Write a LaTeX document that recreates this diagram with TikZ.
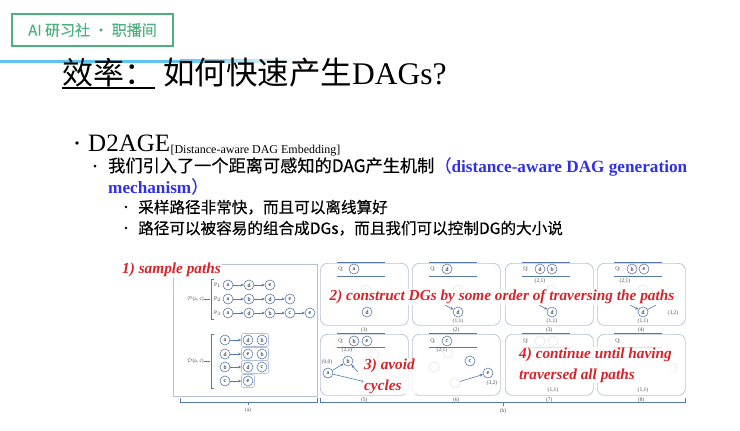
\documentclass[tikz,border=0pt]{standalone}
\usepackage{fontspec}
\setmainfont{Liberation Serif}
\newfontfamily\cjk{Noto Sans CJK SC}
\newfontfamily\cjkm{Noto Sans CJK SC}[FakeBold=0.35]
\usetikzlibrary{arrows.meta, positioning, fit}
\definecolor{SlideGreen}{HTML}{4DB07F}
\definecolor{LineBlue}{HTML}{5CC6EE}
\definecolor{TextBlue}{HTML}{3030E8}
\definecolor{LabelRed}{HTML}{D8232A}
\definecolor{FigBlue}{HTML}{5877AE}
\definecolor{BoxGray}{HTML}{B3C1D6}

\begin{document}
\begin{tikzpicture}[x=1pt, y=-1pt,
    vertex/.style={circle, draw=FigBlue, line width=0.6pt, inner sep=0pt, minimum size=10pt, font=\fontsize{6}{6}\selectfont},
    ghost/.style={vertex, draw=black!10, text=black!15},
    group/.style={draw=BoxGray, line width=0.6pt, rounded corners=2pt, inner sep=1.2pt},
    edge/.style={-{Stealth[length=3pt, width=3pt]}, FigBlue, line width=0.6pt},
    panel/.style={draw=BoxGray, line width=0.7pt, rounded corners=7pt, minimum width=88pt, minimum height=62pt, inner sep=0pt},
    qline/.style={FigBlue, line width=0.9pt},
    tiny/.style={font=\fontsize{5.5}{6}\selectfont, text=black!70, inner sep=0pt},
    redlabel/.style={text=LabelRed, font=\bfseries\itshape\fontsize{15.3}{21}\selectfont, fill=white, fill opacity=0.8, text opacity=1, inner sep=1pt, align=left}
  ]
  \useasboundingbox (0,0) rectangle (740,431);

  % header
  \node[draw=SlideGreen, line width=1.6pt, minimum width=161pt, minimum height=32pt, inner sep=0pt,
        text=SlideGreen, font=\cjkm\fontsize{15}{15}\selectfont] (logo) at (92.5,30) {AI 研习社 · 职播间};
  \fill[LineBlue] (0,59.5) rectangle (180,62.5);
  \shade[left color=LineBlue, right color=white] (180,59.5) rectangle (300,62.5);
  \node[anchor=base west, inner sep=0pt, font=\cjk\fontsize{31}{31}\selectfont] (title1) at (62,84) {效率：};
  \draw[line width=1.2pt] (62,88) -- (155,88);
  \node[anchor=base west, inner sep=0pt, font=\fontsize{31.5}{32}\selectfont] (title2) at (163,84) {{\cjk 如何快速产生}DAGs?};

  % bullets
  \fill (77,143) circle (1.8);
  \node[anchor=base west, inner sep=0pt, font=\fontsize{25}{25}\selectfont] (d2age) at (88,151) {D2AGE};
  \node[anchor=base west, inner sep=0pt, font=\fontsize{12}{13}\selectfont] (d2agesub) at ([yshift=-2pt]d2age.base east) {[Distance-aware DAG Embedding]};
  \fill (95,166) circle (1.5);
  \node[anchor=base west, inner sep=0pt, font=\fontsize{17.2}{18}\selectfont] (mech1) at (108,172)
    {{\cjkm 我们引入了一个距离可感知的DAG产生机制}\textcolor{TextBlue}{{\cjkm （}\bfseries distance-aware DAG generation}};
  \node[anchor=base west, inner sep=0pt, font=\fontsize{17.2}{18}\selectfont, text=TextBlue] (mech2) at (108,193)
    {\textbf{mechanism}{\cjkm ）}};
  \fill (126,207) circle (1.4);
  \node[anchor=base west, inner sep=0pt, font=\cjkm\fontsize{15.6}{16}\selectfont] (fast) at (138,213) {采样路径非常快，而且可以离线算好};
  \fill (126,228) circle (1.4);
  \node[anchor=base west, inner sep=0pt, font=\cjkm\fontsize{15.6}{16}\selectfont] (combine) at (138,234) {路径可以被容易的组合成DGs，而且我们可以控制DG的大小说};

  % panel (a)
  \draw[BoxGray, line width=0.7pt] (173,264) rectangle (317,396);
  \node[tiny, anchor=east] (pset) at (204,299) {$\mathcal{P}$(a, c)};
  \draw[FigBlue, line width=0.5pt] (pset.east) -- ++(6,0);
  \draw[FigBlue, line width=0.6pt] (214,279) -- (211,279) -- (211,319) -- (214,319);
  \node[tiny] (p1) at (217.5,285) {P$_1$};
  \node[tiny] (p2) at (217.5,299) {P$_2$};
  \node[tiny] (p3) at (217.5,313) {P$_3$};
  \node[vertex] (p1a) at (228,285) {a};
  \node[vertex] (p1d) at (249,285) {d};
  \node[vertex] (p1e) at (270,285) {e};
  \node[vertex] (p2a) at (228,299) {a};
  \node[vertex] (p2b) at (249,299) {b};
  \node[vertex] (p2d) at (270,299) {d};
  \node[vertex] (p2e) at (290,299) {e};
  \node[vertex] (p3a) at (228,313) {a};
  \node[vertex] (p3d) at (249,313) {d};
  \node[vertex] (p3b) at (270,313) {b};
  \node[vertex] (p3c) at (290,313) {c};
  \node[vertex] (p3e) at (310,313) {e};
  \draw[edge] (p1a) -- (p1d);
  \draw[edge] (p1d) -- (p1e);
  \draw[edge] (p2a) -- (p2b);
  \draw[edge] (p2b) -- (p2d);
  \draw[edge] (p2d) -- (p2e);
  \draw[edge] (p3a) -- (p3d);
  \draw[edge] (p3d) -- (p3b);
  \draw[edge] (p3b) -- (p3c);
  \draw[edge] (p3c) -- (p3e);

  \node[tiny, anchor=east] (dset) at (204,361) {$\mathcal{D}$(a, c)};
  \draw[FigBlue, line width=0.5pt] (dset.east) -- ++(6,0);
  \draw[FigBlue, line width=0.6pt] (214,334) -- (211,334) -- (211,388) -- (214,388);
  \node[vertex] (d1s) at (225,340) {a};
  \node[vertex] (d1x) at (248,340) {d};
  \node[vertex] (d1y) at (262,340) {b};
  \node[vertex] (d2s) at (225,354) {d};
  \node[vertex] (d2x) at (248,354) {e};
  \node[vertex] (d2y) at (262,354) {b};
  \node[vertex] (d3s) at (225,367) {b};
  \node[vertex] (d3x) at (248,367) {d};
  \node[vertex] (d3y) at (262,367) {c};
  \node[vertex] (d4s) at (225,381) {c};
  \node[vertex] (d4x) at (248,381) {e};
  \node[group, fit=(d1x)(d1y)] (g1) {};
  \node[group, fit=(d2x)(d2y)] (g2) {};
  \node[group, fit=(d3x)(d3y)] (g3) {};
  \node[group, fit=(d4x)] (g4) {};
  \draw[edge] (d1s) -- (g1);
  \draw[edge] (d2s) -- (g2);
  \draw[edge] (d3s) -- (g3);
  \draw[edge] (d4s) -- (g4);

  \draw[FigBlue, line width=0.6pt] (180,398) -- (180,402) -- (317,402) -- (317,398);
  \draw[FigBlue, line width=0.6pt] (248,402) -- (248,405);
  \node[tiny] (capa) at (248,410) {(a)};

  % panel (b)
  \foreach \x/\n in {320/1, 412/2, 505/3, 597/4} {
    \node[panel, anchor=north west] (box\n) at (\x,263) {};
    \node[tiny] (cap\n) at ([yshift=-4pt]box\n.south) {(\n)};
    \draw[qline] (\x+17,262) -- (\x+65,262);
    \draw[FigBlue, line width=0.5pt] (\x+17,276) -- (\x+65,276);
    \node[tiny] (q\n) at (\x+21,269) {Q:};
    \node[ghost] at (\x+18,297) {}; \node[ghost] at (\x+46,290) {}; \node[ghost] at (\x+74,297) {};
  }
  \foreach \x/\n in {320/5, 412/6, 505/7, 597/8} {
    \node[panel, anchor=north west, minimum height=61pt] (box\n) at (\x,334) {};
    \node[tiny] (cap\n) at ([yshift=-4pt]box\n.south) {(\n)};
    \draw[qline] (\x+17,333) -- (\x+65,333);
    \draw[FigBlue, line width=0.5pt] (\x+17,347) -- (\x+65,347);
    \node[tiny] (q\n) at (\x+21,341) {Q:};
  }

  % (1)-(4)
  \node[vertex] (q1a) at (354,269) {a};
  \node[vertex] (n1d) at (367,312) {d};
  \node[vertex] (q2d) at (447,269) {d};
  \node[vertex] (n2d) at (458,312) {d};
  \node[tiny] at (458,321) {(1,1)};
  \coordinate (in2) at (445,305);
  \draw[edge] (in2) -- (n2d);
  \node[vertex] (q3d) at (540,269) {d};
  \node[vertex] (q3b) at (552,269) {b};
  \node[tiny] at (540,281) {(2,1)};
  \node[vertex] (n3d) at (552,312) {d};
  \node[tiny] at (552,321) {(1,1)};
  \coordinate (in3) at (539,305);
  \draw[edge] (in3) -- (n3d);
  \node[vertex] (q4b) at (632,269) {b};
  \node[vertex] (q4e) at (644,269) {e};
  \node[tiny] at (625,281) {(2,1)};
  \node[vertex] (n4d) at (643,312) {d};
  \node[tiny] at (643,321) {(1,1)};
  \node[tiny] at (673,313) {(3,2)};
  \coordinate (in4) at (630,305);
  \coordinate (out4) at (656,305);
  \draw[edge] (in4) -- (n4d);
  \draw[FigBlue, line width=0.6pt] (out4) -- (n4d);

  % (5)-(8)
  \node[vertex] (q5b) at (354,341) {b};
  \node[vertex] (q5e) at (367,341) {e};
  \node[tiny] at (347,350) {(2,1)};
  \node[vertex] (n5a) at (328,373) {a};
  \node[tiny] at (327,362) {(0,0)};
  \node[vertex] (n5b) at (348,361) {b};
  \node[ghost] (g5a) at (374,354) {};
  \node[ghost] (g5b) at (370,383) {};
  \coordinate (in5) at (358,372);
  \draw[edge] (n5a) -- (n5b);
  \draw[edge] (n5a) -- (g5b);
  \draw[edge] (in5) -- (n5b);
  \node[vertex] (q6c) at (447,341) {c};
  \node[tiny] at (442,350) {(2,1)};
  \node[vertex] (n6c) at (470,361) {c};
  \node[vertex] (n6e) at (488,373) {e};
  \node[tiny] at (492,383) {(3,2)};
  \node[ghost] at (434,367) {};
  \node[ghost] at (448,353) {};
  \node[ghost] (g6c) at (455,383) {};
  \draw[edge] (g6c) -- (n6e);
  \node[ghost] at (540,341) {};
  \node[ghost] at (553,341) {};
  \node[ghost] at (525,368) {};
  \node[ghost] at (552,365) {};
  \node[ghost] at (580,368) {};
  \node[tiny] at (553,390) {(1,1)};
  \node[ghost] at (620,368) {};
  \node[ghost] at (643,358) {};
  \node[ghost] at (672,368) {};
  \node[tiny] at (643,390) {(1,1)};

  % step labels
  \node[redlabel, anchor=west] (stepa) at (121,270) {1) sample paths};
  \node[redlabel] (stepb) at (502,297) {2) construct DGs by some order of traversing the paths};
  \node[redlabel, anchor=west] (stepc) at (363,376) {3) avoid\\cycles};
  \node[redlabel, anchor=west] (stepd) at (518,365) {4) continue until having\\traversed all paths};

  % brace (b)
  \draw[FigBlue, line width=0.6pt] (320,398) -- (320,402) -- (685,402) -- (685,398);
  \draw[FigBlue, line width=0.6pt] (503,402) -- (503,406);
  \node[tiny] (capb) at (503,411) {(b)};
\end{tikzpicture}
\end{document}
